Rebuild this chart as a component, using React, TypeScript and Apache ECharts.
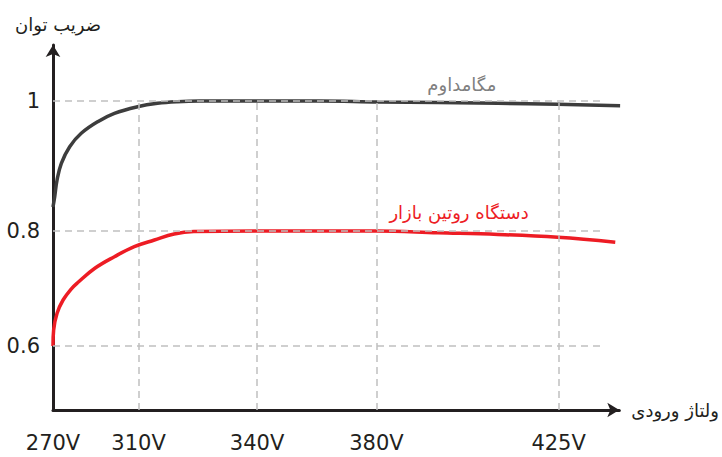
import React, { useEffect, useRef } from "react";
import * as echarts from "echarts";

// ---- data ----
const xTickVolts = [270, 310, 340, 380, 425];
const xTickLabels = ["270V", "310V", "340V", "380V", "425V"];
const yTickValues = [0.6, 0.8, 1.0];
const yTickLabels = ["0.6", "0.8", "1"];

const megaVolts = [270, 270.8, 271.9, 273.9, 277.8, 283.2, 290.9, 298.7, 309.5, 314.8, 319.8, 325.4, 340, 360.7, 380.5, 410, 424.8, 440.2];
const megaPF = [0.837, 0.8528, 0.8785, 0.9042, 0.9297, 0.9503, 0.9682, 0.981, 0.9912, 0.9965, 0.999, 1.0, 1.0, 1.0, 0.9985, 0.9966, 0.9949, 0.9928];

const marketVolts = [270, 270.3, 271.9, 274.7, 278.5, 281.6, 289.4, 298.7, 308.0, 314.0, 319.0, 324.0, 340, 380, 395.2, 410, 424.8, 439.0];
const marketPF = [0.6, 0.6278, 0.6569, 0.68, 0.6991, 0.7104, 0.7348, 0.7553, 0.7727, 0.7843, 0.7948, 0.799, 0.8, 0.8, 0.797, 0.794, 0.789, 0.7806];

const seriesNames = ["مگامداوم", "دستگاه روتین بازار"];
const xAxisName = "ولتاژ ورودی";
const yAxisName = "ضریب توان";

// ---- schematic (non-proportional) axis layout ----
const xTickSpacing = [0, 86, 205, 325, 508];
const yTickSpacing = [64, 179, 309];

function warp(v: number, keys: number[], pos: number[]) {
  const n = keys.length;
  let i = 0;
  if (v <= keys[0]) i = 0;
  else if (v >= keys[n - 1]) i = n - 2;
  else {
    while (i < n - 2 && v > keys[i + 1]) i++;
  }
  const t = (v - keys[i]) / (keys[i + 1] - keys[i]);
  return pos[i] + t * (pos[i + 1] - pos[i]);
}
const wx = (v: number) => warp(v, xTickVolts, xTickSpacing);
const wy = (v: number) => warp(v, yTickValues, yTickSpacing);

const FONT = "DejaVu Sans";

export default function App() {
  const ref = useRef<HTMLDivElement>(null);
  useEffect(() => {
    if (!ref.current) return;
    const chart = echarts.init(ref.current, undefined, { renderer: "svg" });
    const xCustom = xTickVolts.map(wx);
    const yCustom = yTickValues.map(wy);
    const nearestLabel = (val: number, arr: number[], labels: string[]) => {
      let best = 0;
      for (let i = 1; i < arr.length; i++) if (Math.abs(arr[i] - val) < Math.abs(arr[best] - val)) best = i;
      return labels[best];
    };
    const xEnd = 435.8;
    const gridData: any[] = [];
    yTickValues.forEach((p) => {
      gridData.push([{ coord: [wx(270), wy(p)] }, { coord: [wx(xEnd), wy(p)] }]);
    });
    xTickVolts.slice(1).forEach((v) => {
      gridData.push([{ coord: [wx(v), 0] }, { coord: [wx(v), wy(1.0)] }]);
    });
    const option: any = {
      animation: false,
      grid: { left: 53, top: 45, width: 569, height: 365 },
      xAxis: {
        type: "value",
        min: 0,
        max: 569,
        name: xAxisName,
        nameLocation: "end",
        nameGap: 12,
        nameTextStyle: { fontFamily: FONT, fontSize: 18, color: "#231f20", verticalAlign: "middle", padding: [4, 0, 0, 0] },
        axisLine: { show: true, lineStyle: { color: "#231f20", width: 3 }, symbol: ["none", "arrow"], symbolSize: [11, 12] },
        axisTick: { show: false },
        splitLine: { show: false },
        axisLabel: {
          customValues: xCustom,
          margin: 22,
          fontFamily: FONT,
          fontSize: 21,
          color: "#231f20",
          formatter: (val: number) => nearestLabel(val, xCustom, xTickLabels),
        },
      },
      yAxis: {
        type: "value",
        min: 0,
        max: 365,
        name: yAxisName,
        nameLocation: "end",
        nameGap: 12,
        nameTextStyle: { fontFamily: FONT, fontSize: 18, color: "#231f20", padding: [0, 0, 0, 10] },
        axisLine: { show: true, lineStyle: { color: "#231f20", width: 3 }, symbol: ["none", "arrow"], symbolSize: [11, 12] },
        axisTick: { show: false },
        splitLine: { show: false },
        axisLabel: {
          customValues: yCustom,
          margin: 13,
          fontFamily: FONT,
          fontSize: 21,
          color: "#231f20",
          formatter: (val: number) => nearestLabel(val, yCustom, yTickLabels),
        },
      },
      series: [
        {
          type: "line",
          name: "grid",
          data: [],
          silent: true,
          z: 1,
          markLine: {
            silent: true,
            symbol: ["none", "none"],
            label: { show: false },
            lineStyle: { color: "#c0c0c0", type: [7, 5], width: 1.5 },
            data: gridData,
          },
        },
        {
          type: "line",
          name: seriesNames[0],
          data: megaVolts.map((v, i) => [wx(v), wy(megaPF[i])]),
          showSymbol: false,
          smooth: 0.4,
          clip: false,
          z: 3,
          lineStyle: { color: "#3d3d3d", width: 3.5 },
          markPoint: {
            symbol: "circle",
            symbolSize: 0,
            silent: true,
            label: { show: true, position: "inside", formatter: seriesNames[0], fontFamily: FONT, fontSize: 18, color: "#808080" },
            data: [{ coord: [wx(401.1), wy(1.026)] }],
          },
        },
        {
          type: "line",
          name: seriesNames[1],
          data: marketVolts.map((v, i) => [wx(v), wy(marketPF[i])]),
          showSymbol: false,
          smooth: 0.4,
          clip: false,
          z: 3,
          lineStyle: { color: "#ed1c24", width: 3.5 },
          markPoint: {
            symbol: "circle",
            symbolSize: 0,
            silent: true,
            label: { show: true, position: "inside", formatter: seriesNames[1], fontFamily: FONT, fontSize: 18, color: "#ed1c24" },
            data: [{ coord: [wx(400.4), wy(0.828)] }],
          },
        },
      ],
    };
    chart.setOption(option);
    return () => chart.dispose();
  }, []);
  return (
    <div
      ref={ref}
      style={{ position: "fixed", left: 0, top: 0, width: 722, height: 457, background: "#ffffff" }}
    />
  );
}
